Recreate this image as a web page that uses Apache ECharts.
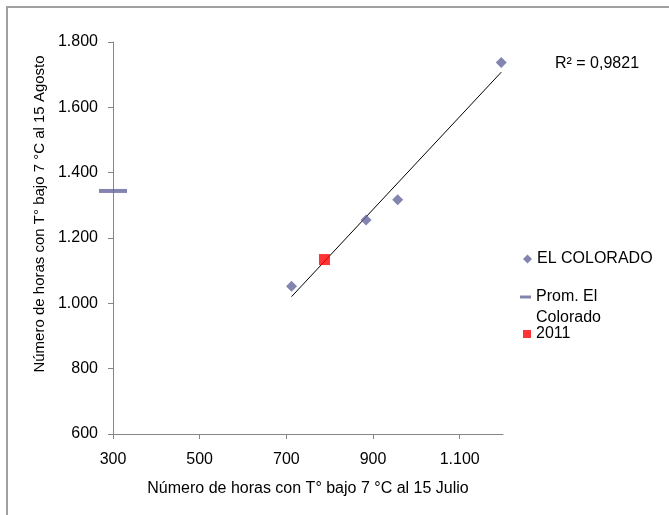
<!DOCTYPE html>
<html>
<head>
<meta charset="utf-8">
<script src="https://cdn.jsdelivr.net/npm/echarts@6/dist/echarts.min.js"></script>
<style>
	html, body { margin: 0; padding: 0; background: #fff; }
	#chart { width: 669px; height: 515px; }
</style>
</head>
<body>
<div id="chart"></div>
<script>
	// datos
	const horasJulio = [712, 884, 957, 1196]
	const horasAgosto = [1052, 1255, 1317, 1737]
	const promX = [300]
	const promY = [1344]
	const x2011 = [788]
	const y2011 = [1134]
	const xTicks = [300, 500, 700, 900, 1100]
	const r2Text = 'R² = 0,9821'

	const fuente = '"Liberation Sans", Arial, sans-serif'
	const colorSerie = '#65659d'

	// linea de tendencia (minimos cuadrados sobre EL COLORADO)
	const n = horasJulio.length
	const mx = horasJulio.reduce((a, b) => a + b, 0) / n
	const my = horasAgosto.reduce((a, b) => a + b, 0) / n
	let sxy = 0, sxx = 0
	for (let i = 0; i < n; i++) {
		sxy += (horasJulio[i] - mx) * (horasAgosto[i] - my)
		sxx += (horasJulio[i] - mx) * (horasJulio[i] - mx)
	}
	const pendiente = sxy / sxx
	const intercepto = my - pendiente * mx
	const xMin = Math.min(...horasJulio)
	const xMax = Math.max(...horasJulio)
	const tendencia = [
		[xMin, intercepto + pendiente * xMin],
		[xMax, intercepto + pendiente * xMax]
	]

	const miles = v => String(v).replace(/\B(?=(\d{3})+(?!\d))/g, '.')

	const chart = echarts.init(document.getElementById('chart'))
	const option = {
		backgroundColor: '#fff',
		animation: false,
		textStyle: { fontFamily: fuente },
		grid: {
			left: 113,
			right: 166,
			top: 42,
			bottom: 81,
			containLabel: false,
			outerBoundsMode: 'none'
		},
		legend: [{
			data: ['EL COLORADO'],
			left: 523,
			top: 251,
			padding: 0,
			icon: 'diamond',
			itemWidth: 9,
			itemHeight: 9,
			textStyle: { fontFamily: fuente, fontSize: 16, color: '#000' }
		}, {
			data: ['Prom. El Colorado'],
			left: 520,
			top: 289,
			padding: 0,
			icon: 'rect',
			itemWidth: 11,
			itemHeight: 3,
			formatter: () => 'Prom. El',
			textStyle: { fontFamily: fuente, fontSize: 16, color: '#000' }
		}, {
			data: ['2011'],
			left: 523,
			top: 326,
			padding: 0,
			icon: 'rect',
			itemWidth: 8,
			itemHeight: 8,
			textStyle: { fontFamily: fuente, fontSize: 16, color: '#000' }
		}],
		xAxis: {
			type: 'value',
			min: 300,
			max: 1200,
			name: 'Número de horas con T° bajo 7 °C al 15 Julio',
			nameLocation: 'middle',
			nameGap: 47,
			nameTextStyle: { fontFamily: fuente, fontSize: 16, color: '#000' },
			axisLine: { show: true, lineStyle: { color: '#868686', width: 1 } },
			axisTick: { show: true, length: 5, customValues: xTicks, lineStyle: { color: '#868686' } },
			axisLabel: {
				customValues: xTicks,
				formatter: v => miles(v),
				margin: 18,
				fontFamily: fuente,
				fontSize: 16,
				color: '#000'
			},
			splitLine: { show: false }
		},
		yAxis: {
			type: 'value',
			min: 600,
			max: 1800,
			interval: 200,
			axisLine: { show: true, lineStyle: { color: '#868686', width: 1 } },
			axisTick: { show: true, length: 5, lineStyle: { color: '#868686' } },
			axisLabel: {
				formatter: v => miles(v),
				margin: 15,
				fontFamily: fuente,
				fontSize: 16,
				color: '#000'
			},
			splitLine: { show: false }
		},
		series: [{
			name: 'Lineal',
			type: 'line',
			data: tendencia,
			showSymbol: false,
			silent: true,
			lineStyle: { color: '#000', width: 1 },
			z: 1
		}, {
			name: 'EL COLORADO',
			type: 'scatter',
			data: horasJulio.map((x, i) => [x, horasAgosto[i]]),
			symbol: 'diamond',
			symbolSize: 11,
			itemStyle: { color: colorSerie },
			z: 3
		}, {
			name: 'Prom. El Colorado',
			type: 'scatter',
			clip: false,
			data: promX.map((x, i) => [x, promY[i]]),
			symbol: 'rect',
			symbolSize: [28, 4],
			itemStyle: { color: colorSerie },
			z: 4
		}, {
			name: '2011',
			type: 'scatter',
			data: x2011.map((x, i) => [x, y2011[i]]),
			symbol: 'rect',
			symbolSize: 11,
			itemStyle: { color: '#ff0000' },
			z: 4
		}],
		graphic: [{
			type: 'rect',
			shape: { x: 7, y: 7, width: 700, height: 600 },
			style: { fill: 'none', stroke: '#a0a0a0', lineWidth: 2 },
			silent: true
		}, {
			type: 'text',
			left: 536,
			top: 310,
			style: { text: 'Colorado', font: '16px ' + fuente, fill: '#000' }
		}, {
			type: 'text',
			x: 555,
			y: 56,
			style: { text: r2Text, font: '16px ' + fuente, fill: '#000' }
		}, {
			type: 'text',
			x: 40,
			y: 214,
			rotation: Math.PI / 2,
			style: {
				text: 'Número de horas con T° bajo 7 °C al 15 Agosto',
				font: '15px ' + fuente,
				fill: '#000',
				align: 'center',
				verticalAlign: 'middle'
			}
		}]
	}
	chart.setOption(option)
</script>
</body>
</html>
